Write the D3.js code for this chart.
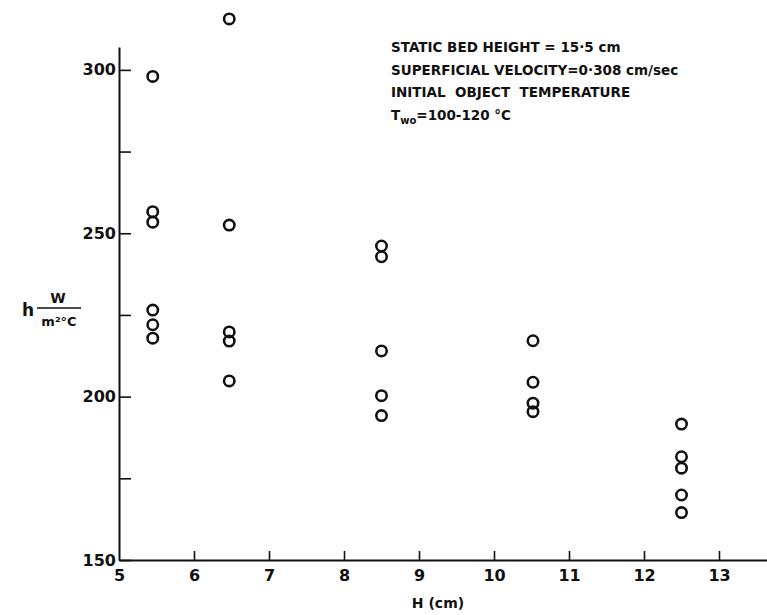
<!DOCTYPE html>
<html>
<head>
<meta charset="utf-8">
<script src="https://cdn.jsdelivr.net/npm/d3@7"></script>
<style>
  body { margin: 0; background: #fff; }
  text { font-family: "DejaVu Sans", "Liberation Sans", sans-serif; fill: #111; }
</style>
</head>
<body>
<svg id="chart"></svg>
<script>
// object height H (cm) for each column of points
const heights = [5.45, 6.47, 8.5, 10.52, 12.5];
// heat transfer coefficient h (W/m2 C) read for each column
const coefficients = [
  [298, 256.6, 253.4, 226.5, 222, 217.9],
  [315.6, 252.5, 219.8, 217, 204.8],
  [246.1, 242.8, 214, 200.3, 194.2],
  [217.1, 204.4, 198, 195.4],
  [191.6, 181.6, 178.1, 169.9, 164.5],
];
const xTicks = [5, 6, 7, 8, 9, 10, 11, 12, 13];
const yTicks = [150, 175, 200, 225, 250, 275, 300];
const yLabelled = [150, 200, 250, 300];
const notes = [
  "STATIC BED HEIGHT = 15·5 cm",
  "SUPERFICIAL VELOCITY=0·308 cm/sec",
  "INITIAL  OBJECT  TEMPERATURE",
];

const width = 767;
const height = 615;

const points = heights.flatMap((h, i) => coefficients[i].map((c) => ({ h, c })));

const svg = d3.select("#chart")
  .attr("width", width)
  .attr("height", height);

const x = d3.scaleLinear()
  .domain([5, 13.64])
  .range([119, 767]);

const y = d3.scaleLinear()
  .domain([150, 307])
  .range([560, 47]);

const xAxis = svg.append("g")
  .attr("transform", `translate(0, ${y(150)})`)
  .call(d3.axisBottom(x)
    .tickValues(xTicks)
    .tickSizeInner(-9)
    .tickSizeOuter(0)
    .tickPadding(10)
    .tickFormat(d3.format("d")));

const yAxis = svg.append("g")
  .attr("transform", `translate(${x(5)}, 0)`)
  .call(d3.axisLeft(y)
    .tickValues(yTicks)
    .tickSizeInner(-12)
    .tickSizeOuter(0)
    .tickPadding(3)
    .tickFormat((d) => yLabelled.includes(d) ? d : ""));

[xAxis, yAxis].forEach((g) => {
  g.select(".domain").attr("stroke", "#111").attr("stroke-width", 2);
  g.selectAll(".tick line").attr("stroke", "#111").attr("stroke-width", 1.6);
  g.selectAll(".tick text")
    .style("font-family", "\"DejaVu Sans\", sans-serif")
    .style("font-size", "16px")
    .style("font-weight", "bold")
    .attr("fill", "#111");
});
xAxis.select(".tick line").remove();

svg.append("text")
  .attr("x", 438)
  .attr("y", 608)
  .attr("text-anchor", "middle")
  .style("font-size", "14px")
  .style("font-weight", "bold")
  .text("H (cm)");

// y label: h  W / m2 C
const yLab = svg.append("g");
yLab.append("text")
  .attr("x", 22)
  .attr("y", 316)
  .style("font-size", "17px")
  .style("font-weight", "bold")
  .text("h");
yLab.append("line")
  .attr("x1", 37).attr("x2", 81)
  .attr("y1", 308).attr("y2", 308)
  .attr("stroke", "#111")
  .attr("stroke-width", 1.6);
yLab.append("text")
  .attr("x", 58)
  .attr("y", 303)
  .attr("text-anchor", "middle")
  .style("font-size", "14px")
  .style("font-weight", "bold")
  .text("W");
yLab.append("text")
  .attr("x", 59)
  .attr("y", 326)
  .attr("text-anchor", "middle")
  .style("font-size", "13px")
  .style("font-weight", "bold")
  .text("m²°C");

const noteG = svg.append("g")
  .style("font-size", "13.5px")
  .style("font-weight", "bold");
noteG.selectAll(".note")
  .data(notes)
  .enter()
  .append("text")
  .attr("class", "note")
  .attr("x", 391)
  .attr("y", (d, i) => 52 + i * 22.5)
  .attr("xml:space", "preserve")
  .style("white-space", "pre")
  .text((d) => d);
const tLine = noteG.append("text")
  .attr("x", 391)
  .attr("y", 52 + 3 * 22.5);
tLine.append("tspan").text("T");
tLine.append("tspan")
  .attr("dy", 4)
  .style("font-size", "10px")
  .text("wo");
tLine.append("tspan")
  .attr("dy", -4)
  .text("=100-120 °C");

svg.selectAll(".pt")
  .data(points)
  .enter()
  .append("circle")
  .attr("class", "pt")
  .attr("cx", (d) => x(d.h))
  .attr("cy", (d) => y(d.c))
  .attr("r", 5.2)
  .attr("fill", "none")
  .attr("stroke", "#111")
  .attr("stroke-width", 2.6);
</script>
</body>
</html>
